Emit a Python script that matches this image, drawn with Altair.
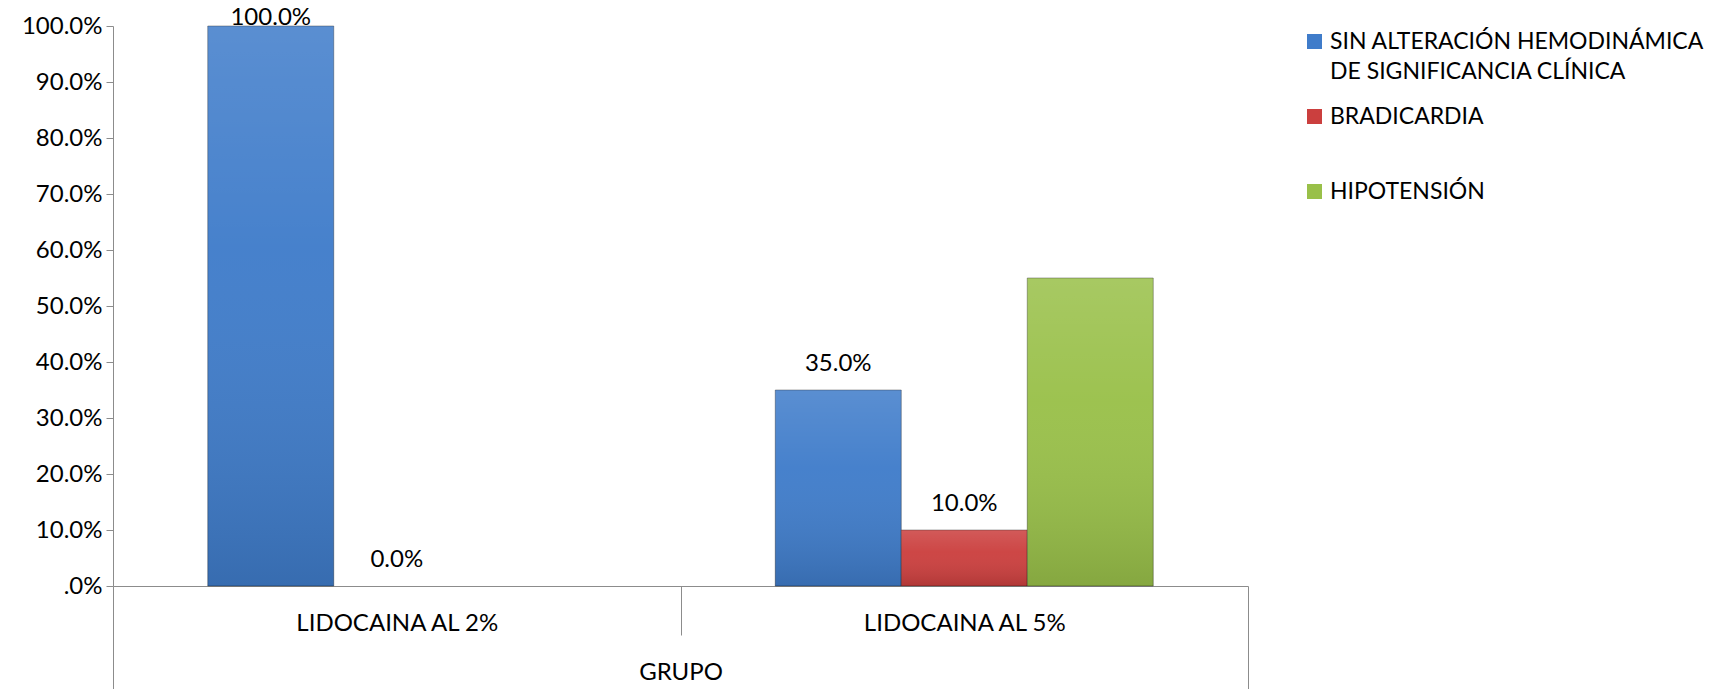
import altair as alt
import pandas as pd

grupos = ["LIDOCAINA AL 2%", "LIDOCAINA AL 5%"]
series = [
    "SIN ALTERACIÓN HEMODINÁMICA DE SIGNIFICANCIA CLÍNICA",
    "BRADICARDIA",
    "HIPOTENSIÓN",
]
sin_alteracion = [100.0, 35.0]
bradicardia = [0.0, 10.0]
hipotension = [0.0, 55.0]
con_etiqueta = [True, True, False]
colores = ["#3F7CCA", "#CB3F3E", "#99C049"]

rows = []
for i, g in enumerate(grupos):
    for s, vals, lab in zip(series, [sin_alteracion, bradicardia, hipotension], con_etiqueta):
        rows.append({"grupo": g, "serie": s, "valor": vals[i], "etiqueta": lab})
df = pd.DataFrame(rows)

FONT = "Lato"
FS = 24

x_enc = alt.X(
    "grupo:N",
    sort=grupos,
    scale=alt.Scale(paddingInner=0, paddingOuter=0),
    axis=alt.Axis(
        title="GRUPO",
        titleFont=FONT,
        titleFontSize=FS,
        titleFontWeight="normal",
        titleColor="#000000",
        titleY=86,
        titleBaseline="middle",
        labelFont=FONT,
        labelFontSize=FS,
        labelColor="#000000",
        labelAngle=0,
        labelLimit=600,
        labelPadding={"condition": {"test": "datum.value == 'LIDOCAINA AL 2%'", "value": -12}, "value": -66},
        labelBaseline="middle",
        tickBand="extent",
        tickSize={"condition": {"test": "datum.value == 'LIDOCAINA AL 2%'", "value": 49}, "value": 103},
        tickColor="#8C8C8C",
        domainColor="#8C8C8C",
        grid=False,
    ),
)
xoff = alt.XOffset(
    "serie:N", sort=series, scale=alt.Scale(paddingInner=0, paddingOuter=0.752)
)
y_enc = alt.Y(
    "valor:Q",
    scale=alt.Scale(domain=[0, 100], nice=False),
    axis=alt.Axis(
        title=None,
        values=list(range(0, 101, 10)),
        labelExpr="datum.value == 0 ? '.0%' : format(datum.value, '.1f') + '%'",
        labelFont=FONT,
        labelFontSize=FS,
        labelColor="#000000",
        labelPadding=4,
        tickSize=7,
        tickColor="#8C8C8C",
        domainColor="#8C8C8C",
        grid=False,
    ),
)

color_enc = alt.Color(
    "serie:N",
    sort=series,
    scale=alt.Scale(domain=series, range=colores),
    legend=alt.Legend(
        title=None,
        orient="none",
        legendX=1190,
        legendY=4,
        symbolType="square",
        symbolSize=225,
        symbolStrokeWidth=0,
        labelFont=FONT,
        labelFontSize=23,
        labelColor="#000000",
        labelLimit=600,
        labelOffset=4,
        rowPadding=21,
        labelExpr="datum.label == 'SIN ALTERACIÓN HEMODINÁMICA DE SIGNIFICANCIA CLÍNICA' ? ['SIN ALTERACIÓN HEMODINÁMICA', 'DE SIGNIFICANCIA CLÍNICA'] : [datum.label, '']",
    ),
)

base = alt.Chart(df)

bars = base.transform_filter("datum.valor > 0").mark_bar(
    stroke="#00000055", strokeWidth=1
).encode(x=x_enc, xOffset=xoff, y=y_enc, color=color_enc)

sheen = base.transform_filter("datum.valor > 0").mark_bar(
    color=alt.Gradient(
        gradient="linear",
        x1=0, y1=0, x2=0, y2=1,
        stops=[
            alt.GradientStop(offset=0, color="rgba(255,255,255,0.14)"),
            alt.GradientStop(offset=0.4, color="rgba(255,255,255,0.04)"),
            alt.GradientStop(offset=1, color="rgba(0,0,0,0.13)"),
        ],
    )
).encode(x=alt.X("grupo:N", sort=grupos), xOffset=alt.XOffset("serie:N", sort=series), y="valor:Q")

labels = (
    base.transform_filter("datum.etiqueta")
    .transform_calculate(ypos="min(datum.valor + 4.64, 101.4)")
    .transform_calculate(txt="format(datum.valor, '.1f') + '%'")
    .mark_text(font=FONT, fontSize=FS, color="#000000", baseline="middle")
    .encode(
        x=alt.X("grupo:N", sort=grupos),
        xOffset=alt.XOffset("serie:N", sort=series),
        y=alt.Y("ypos:Q"),
        text="txt:N",
    )
)

chart = (
    alt.layer(bars, sheen, labels)
    .properties(
        width=1135,
        height=560,
        autosize="none",
        padding={"left": 113, "top": 26, "right": 471, "bottom": 103},
    )
    .configure(style={"guide-label": {"lineHeight": 30}})
    .configure_view(stroke=None)
)

chart.save("out.html", embed_options={"renderer": "svg", "actions": False})
